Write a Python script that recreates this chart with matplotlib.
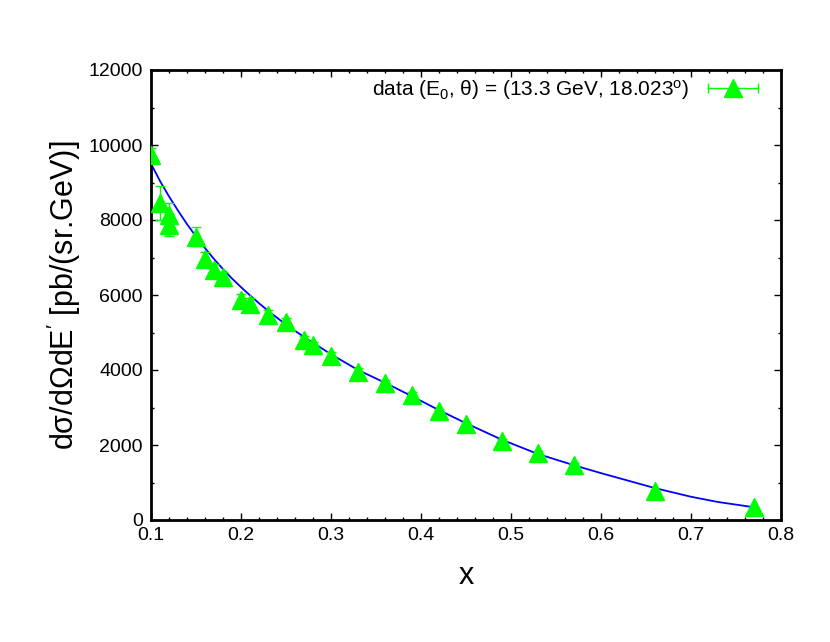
import matplotlib
matplotlib.use('Agg')
import matplotlib.pyplot as plt
from matplotlib.lines import Line2D
from matplotlib.legend_handler import HandlerLine2D
from matplotlib.ticker import MultipleLocator

plt.rcParams['font.family'] = ['Liberation Sans', 'DejaVu Sans']
plt.rcParams['mathtext.fontset'] = 'custom'
plt.rcParams['mathtext.rm'] = 'Liberation Sans'
plt.rcParams['mathtext.it'] = 'Liberation Sans:italic'
plt.rcParams['mathtext.default'] = 'rm'

x_data = [0.10, 0.11, 0.12, 0.12, 0.15, 0.16, 0.17, 0.18, 0.20, 0.21, 0.23, 0.25,
          0.27, 0.28, 0.30, 0.33, 0.36, 0.39, 0.42, 0.45, 0.49, 0.53, 0.57, 0.66, 0.77]
y_data = [9730, 8450, 8130, 7870, 7560, 6950, 6660, 6470, 5880, 5760, 5480, 5280,
          4810, 4660, 4370, 3960, 3660, 3340, 2900, 2550, 2100, 1790, 1480, 780, 340]
y_err = [200, 450, 330, 300, 250, 200, 180, 150, 150, 150, 130, 120,
         110, 100, 100, 90, 80, 80, 70, 60, 50, 45, 40, 30, 20]

# fitted curve
x_fit = [0.10, 0.11, 0.12, 0.13, 0.14, 0.15, 0.16, 0.17, 0.18, 0.19, 0.20, 0.21,
         0.22, 0.23, 0.25, 0.27, 0.30, 0.33, 0.36, 0.39, 0.42, 0.45, 0.49, 0.53,
         0.57, 0.60, 0.63, 0.66, 0.70, 0.73, 0.77]
y_fit = [9500, 9040, 8630, 8250, 7890, 7560, 7250, 6960, 6690, 6440, 6210, 5990,
         5780, 5580, 5210, 4880, 4420, 4000, 3660, 3300, 2930, 2580, 2140, 1760,
         1460, 1250, 1050, 850, 620, 480, 340]

green = '#00ff00'
blue = '#0000ff'

fig = plt.figure(figsize=(8.3, 6.42), dpi=100)
ax = fig.add_axes([151/830, 1-520/642, (781-151)/830, (520-70)/642])

ax.plot(x_fit, y_fit, color=blue, lw=1.3, zorder=2)
ax.errorbar(x_data, y_data, yerr=y_err, fmt='^', color=green, ms=13,
            ecolor=green, elinewidth=1, capsize=3.5, capthick=1, zorder=3)

ax.set_xlim(0.1, 0.8)
ax.set_ylim(0, 12000)
ax.xaxis.set_major_locator(MultipleLocator(0.1))
ax.xaxis.set_minor_locator(MultipleLocator(0.02))
ax.yaxis.set_major_locator(MultipleLocator(2000))
ax.yaxis.set_minor_locator(MultipleLocator(1000))
ax.tick_params(which='both', direction='in', top=True, right=True, labelsize=14)
ax.tick_params(which='major', length=5, width=1)
ax.tick_params(which='minor', length=2.5, width=1)
ax.tick_params(axis='y', pad=6)
ax.tick_params(axis='x', pad=5)
for s in ax.spines.values():
    s.set_linewidth(2)

ax.set_xlabel('x', fontsize=22, labelpad=12)
ax.set_ylabel("dσ/dΩdE$^{\\prime}$ [pb/(sr.GeV)]", fontsize=22, labelpad=4)

cap = Line2D([], [], color=green, lw=1, marker='|', ms=7, mew=1)
tri = Line2D([], [], ls='none', marker='^', ms=13, color=green)
ax.legend([(cap, tri)], ['data (E$_0$, θ) = (13.3 GeV, 18.023$^{o}$)'],
          handler_map={cap: HandlerLine2D(numpoints=2), tri: HandlerLine2D(numpoints=1)},
          loc='upper right', bbox_to_anchor=(1.0, 1.02), frameon=False,
          markerfirst=False, fontsize=15, handlelength=3.0, handletextpad=0.6,
          borderaxespad=0.4)

fig.savefig('out.png', dpi=100)
